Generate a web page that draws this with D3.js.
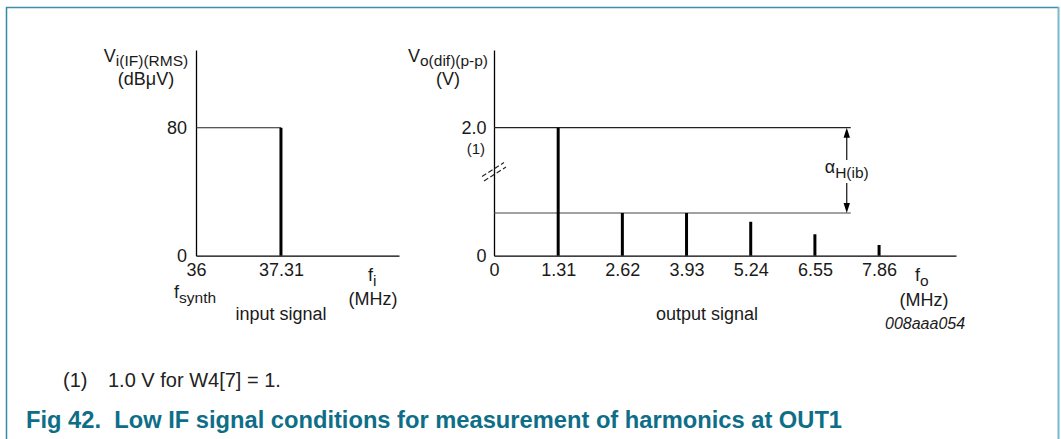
<!DOCTYPE html>
<html>
<head>
<meta charset="utf-8">
<script src="https://cdn.jsdelivr.net/npm/d3@7"></script>
<style>
  html, body { margin: 0; padding: 0; background: #fff; }
  svg { display: block; font-family: "Liberation Sans", Arial, Helvetica, sans-serif; }
</style>
</head>
<body>
<svg id="fig" width="1061" height="439"></svg>
<script>
// ---- Input spectrum (synthesizer tone) ----
const inputTicks = [36, 37.31];
const inputTickLabels = ["36", "37.31"];
const inputLevelTicks = [0, 80];
const inputLevelTickLabels = ["0", "80"];
const inputFreqs = [37.31];
const inputLevels = [80];

// ---- Output spectrum: fundamental + harmonics (level axis is broken) ----
const outputTicks = [0, 1.31, 2.62, 3.93, 5.24, 6.55, 7.86];
const outputTickLabels = ["0", "1.31", "2.62", "3.93", "5.24", "6.55", "7.86"];
const outputLevelTicks = [0, 2.0];
const outputLevelTickLabels = ["0", "2.0"];
const outputFreqs = [1.31, 2.62, 3.93, 5.24, 6.55, 7.86];
const outputLevels = [2.0, 0.667, 0.667, 0.53, 0.335, 0.167];
const referenceLevels = [2.0, 0.667];   // fundamental and largest harmonic
const dimensionFreq = 7.2;              // where the alpha_H(ib) dimension sits
const breakLevel = 1.3;                 // axis break position

const svg = d3.select("#fig");
const TEXT = "#1a1a1a";
const FS = 18;

// ---- frame ----
svg.append("line").attr("x1", 6.5).attr("x2", 6.5).attr("y1", 7).attr("y2", 439)
  .attr("stroke", "#2e8ba5").attr("stroke-width", 1.5);
svg.append("line").attr("x1", 6).attr("x2", 1059).attr("y1", 7.5).attr("y2", 7.5)
  .attr("stroke", "#3a90a9").attr("stroke-width", 1.5);
svg.append("line").attr("x1", 1058.5).attr("x2", 1058.5).attr("y1", 7).attr("y2", 439)
  .attr("stroke", "#7bbaca").attr("stroke-width", 2);

// ---- scales ----
const xIn = d3.scaleLinear().domain([36, 39.13]).range([196, 399]);
const yIn = d3.scaleLinear().domain([0, 128.6]).range([255.7, 50]);
const xOut = d3.scaleLinear().domain([0, 9.43]).range([494, 956]);
const yOut = d3.scaleLinear().domain([0, 3.214]).range([255.7, 50]);

function styleAxis(g) {
  g.attr("font-family", null).attr("font-size", null);
  g.select(".domain").attr("stroke", "#000").attr("stroke-width", 1.3);
  g.selectAll("text").attr("fill", TEXT).style("font-size", FS + "px");
}

// ---- input chart axes ----
svg.append("g").attr("transform", `translate(0,${yIn(0)})`)
  .call(d3.axisBottom(xIn).tickValues(inputTicks)
    .tickFormat((d, i) => inputTickLabels[i]).tickSize(0).tickSizeOuter(0).tickPadding(8))
  .call(styleAxis);
svg.append("g").attr("transform", `translate(${xIn(36)},0)`)
  .call(d3.axisLeft(yIn).tickValues(inputLevelTicks)
    .tickFormat((d, i) => inputLevelTickLabels[i]).tickSize(0).tickSizeOuter(0).tickPadding(9))
  .call(styleAxis);

// level reference for the input tone
svg.append("line")
  .attr("x1", xIn(36)).attr("x2", xIn(inputFreqs[0]))
  .attr("y1", yIn(inputLevels[0])).attr("y2", yIn(inputLevels[0]))
  .attr("stroke", "#222").attr("stroke-width", 1.2);

svg.append("g").selectAll("line").data(inputFreqs).join("line")
  .attr("x1", d => xIn(d)).attr("x2", d => xIn(d))
  .attr("y1", yIn(0)).attr("y2", (d, i) => yIn(inputLevels[i]))
  .attr("stroke", "#000").attr("stroke-width", 3);

// ---- output chart axes ----
svg.append("g").attr("transform", `translate(0,${yOut(0)})`)
  .call(d3.axisBottom(xOut).tickValues(outputTicks)
    .tickFormat((d, i) => outputTickLabels[i]).tickSize(0).tickSizeOuter(0).tickPadding(8))
  .call(styleAxis);
svg.append("g").attr("transform", `translate(${xOut(0)},0)`)
  .call(d3.axisLeft(yOut).tickValues(outputLevelTicks)
    .tickFormat((d, i) => outputLevelTickLabels[i]).tickSize(0).tickSizeOuter(0).tickPadding(7.5))
  .call(styleAxis);

const dimX = xOut(dimensionFreq);

// reference levels spanning to the dimension line
svg.append("g").selectAll("line").data(referenceLevels).join("line")
  .attr("x1", xOut(0)).attr("x2", dimX + 4)
  .attr("y1", d => yOut(d)).attr("y2", d => yOut(d))
  .attr("stroke", (d, i) => i === 0 ? "#222" : "#444").attr("stroke-width", 1.2);

// spectral lines
svg.append("g").selectAll("line").data(outputFreqs).join("line")
  .attr("x1", d => xOut(d)).attr("x2", d => xOut(d))
  .attr("y1", yOut(0)).attr("y2", (d, i) => yOut(outputLevels[i]))
  .attr("stroke", "#000").attr("stroke-width", 3);

// axis break marks
const by = yOut(breakLevel);
const bx = xOut(0);
[[-12, 4, 10, -10], [-10, 8.5, 12, -5.5]].forEach(([x1, y1, x2, y2]) => {
  svg.append("line")
    .attr("x1", bx + x1).attr("y1", by + y1).attr("x2", bx + x2).attr("y2", by + y2)
    .attr("stroke", "#222").attr("stroke-width", 1.1).attr("stroke-dasharray", "5,2.5");
});

// alpha_H(ib) dimension with arrowheads
const yTop = yOut(referenceLevels[0]);
const yBot = yOut(referenceLevels[1]);
svg.append("line").attr("x1", dimX).attr("x2", dimX).attr("y1", yTop + 8).attr("y2", 160)
  .attr("stroke", "#111").attr("stroke-width", 1.2);
svg.append("line").attr("x1", dimX).attr("x2", dimX).attr("y1", 183).attr("y2", yBot - 8)
  .attr("stroke", "#111").attr("stroke-width", 1.2);
svg.append("path")
  .attr("d", `M${dimX},${yTop} L${dimX - 3.2},${yTop + 10} L${dimX + 3.2},${yTop + 10} Z`)
  .attr("fill", "#000");
svg.append("path")
  .attr("d", `M${dimX},${yBot} L${dimX - 3.2},${yBot - 10} L${dimX + 3.2},${yBot - 10} Z`)
  .attr("fill", "#000");

const alpha = svg.append("text").attr("x", dimX).attr("y", 173)
  .attr("text-anchor", "middle").attr("fill", TEXT).style("font-size", FS + "px");
alpha.append("tspan").text("α");
alpha.append("tspan").attr("dy", 5).style("font-size", "15.5px").text("H(ib)");

// ---- axis titles and captions ----
function subLabel(x, y, main, sub, anchor, dy) {
  const t = svg.append("text").attr("x", x).attr("y", y)
    .attr("text-anchor", anchor).attr("fill", TEXT).style("font-size", FS + "px");
  t.append("tspan").text(main);
  t.append("tspan").attr("dy", dy).style("font-size", "15.5px").text(sub);
  return t;
}
function label(x, y, txt, anchor, size, extra) {
  const t = svg.append("text").attr("x", x).attr("y", y)
    .attr("text-anchor", anchor).attr("fill", TEXT)
    .style("font-size", (size || FS) + "px").text(txt);
  if (extra) extra(t);
  return t;
}

subLabel(146, 62, "V", "i(IF)(RMS)", "middle", 4);
label(146, 85, "(dBμV)", "middle");
subLabel(174, 298, "f", "synth", "start", 5);
subLabel(368, 281, "f", "i", "start", 5);
label(373, 305, "(MHz)", "middle");
label(281, 320, "input signal", "middle");

subLabel(448, 62, "V", "o(dif)(p-p)", "middle", 4);
label(448, 85, "(V)", "middle");
label(485, 154, "(1)", "end", 15);
subLabel(915, 281, "f", "o", "start", 5);
label(924, 306, "(MHz)", "middle");
label(707, 320, "output signal", "middle");
label(885, 329, "008aaa054", "start", 16, t => t.style("font-style", "italic"));

// ---- footnote and figure title ----
label(63, 387, "(1)", "start", 20).attr("fill", "#222");
label(108, 387, "1.0 V for W4[7] = 1.", "start", 20).attr("fill", "#222");
svg.append("text").attr("x", 26).attr("y", 428)
  .attr("fill", "#0e6e88").style("font-size", "23.7px").style("font-weight", "bold")
  .attr("xml:space", "preserve")
  .text("Fig 42.  Low IF signal conditions for measurement of harmonics at OUT1");
</script>
</body>
</html>
